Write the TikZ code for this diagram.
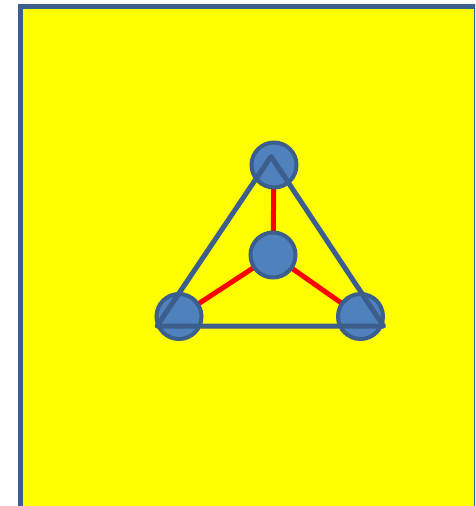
\documentclass[tikz,border=0pt]{standalone}
\begin{document}
\begin{tikzpicture}[x=1pt,y=-1pt,
  atom/.style={circle,draw=atomline,fill=atomfill,line width=4pt,minimum size=45pt,inner sep=0pt},
  bond/.style={draw=red,line width=5pt},
  edge/.style={draw=atomline,line width=5pt,line join=round,line cap=round}]
\definecolor{atomfill}{HTML}{4F81BD}
\definecolor{atomline}{HTML}{3B5E8D}
\definecolor{bg}{HTML}{FFFF00}
\useasboundingbox (0,0) rectangle (475,506);
\begin{scope}
\clip (0,0) rectangle (475,506);
\draw[fill=bg,draw=atomline,line width=5pt] (20.5,6.5) rectangle (476.5,509);
\end{scope}
\coordinate (pct) at (273,255);
\coordinate (ptop) at (274,165);
\coordinate (pbl) at (179,316.5);
\coordinate (pbr) at (360.5,316.5);
\path[bond] (pct) -- (ptop);
\path[bond] (pct) -- (pbl);
\path[bond] (pct) -- (pbr);
\node[atom] (ct) at (pct) {};
\node[atom] (top) at (ptop) {};
\node[atom] (bl) at (pbl) {};
\node[atom] (br) at (pbr) {};
\coordinate (ta) at (271,156.5);
\coordinate (tl) at (157,326);
\coordinate (tr) at (383.5,326);
\path[edge] (ta) -- (tr) -- (tl) -- cycle;
\end{tikzpicture}
\end{document}
